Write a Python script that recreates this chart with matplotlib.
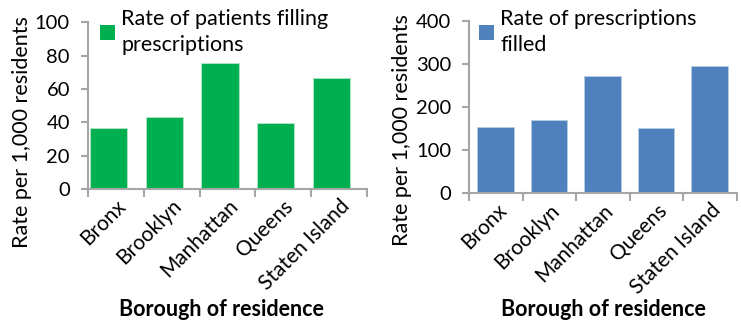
import matplotlib
matplotlib.use('Agg')
import matplotlib.pyplot as plt
from matplotlib.patches import Patch

plt.rcParams['font.family'] = ['Lato', 'DejaVu Sans']

boroughs = ['Bronx', 'Brooklyn', 'Manhattan', 'Queens', 'Staten Island']
patients_rate = [36.5, 43, 75.3, 39.4, 66.3]
patients_second = [0.7, 0, 0, 0, 0]   # second series in the left panel, almost empty
prescriptions_rate = [153, 171, 272, 151, 295]

green = '#00B050'
blue = '#4F81BD'
axis_grey = '#A6A6A6'
fs_label = 15.5
fs_ytick = 14.5
fs_xtick = 15

fig = plt.figure(figsize=(7.41, 3.22), dpi=100)
ax1 = fig.add_axes([0.1188, 0.413, 0.3765, 0.5177])
ax2 = fig.add_axes([0.6333, 0.3997, 0.3613, 0.536])


def style_axis(ax, ymax, ystep, ylab_pos, xlab_pos):
    ax.set_xlim(0, len(boroughs))
    ax.set_ylim(0, ymax)
    ax.set_yticks(range(0, ymax + 1, ystep))
    # tick marks between categories, labels at the centres
    ax.set_xticks(range(len(boroughs) + 1))
    ax.set_xticklabels([])
    ax.set_xticks([i + 0.5 for i in range(len(boroughs))], minor=True)
    ax.set_xticklabels(boroughs, minor=True, rotation=45, ha='right',
                       rotation_mode='anchor', fontsize=fs_xtick)
    ax.tick_params(axis='x', which='minor', length=0, pad=5)
    ax.tick_params(axis='x', which='major', length=6, width=1.5, color=axis_grey)
    ax.tick_params(axis='y', length=5, width=1.5, color=axis_grey,
                   labelsize=fs_ytick, pad=8)
    for s in ['top', 'right']:
        ax.spines[s].set_visible(False)
    for s in ['left', 'bottom']:
        ax.spines[s].set_color(axis_grey)
        ax.spines[s].set_linewidth(1.5)
    ax.set_ylabel('Rate per 1,000 residents', fontsize=fs_label)
    ax.yaxis.set_label_coords(*ylab_pos)
    ax.yaxis.label.set_va('center')
    ax.set_xlabel('Borough of residence', fontsize=fs_label, fontweight='bold')
    ax.xaxis.set_label_coords(*xlab_pos)
    ax.xaxis.label.set_va('center')


def add_legend(ax, color, label, anchor):
    leg = ax.legend(handles=[Patch(facecolor=color, edgecolor='none')], labels=[label],
                    loc='upper left', bbox_to_anchor=anchor, frameon=False,
                    fontsize=fs_label, handlelength=0.68, handleheight=0.68,
                    handletextpad=0.3, borderaxespad=0, borderpad=0)
    for t in leg.get_texts():
        t.set_linespacing(1.35)
    # square next to the first line of the label
    for row in leg._legend_handle_box.get_children():
        row.align = 'top'
    return leg


x = range(len(boroughs))

ax1.bar([i + 0.365 for i in x], patients_rate, width=0.67, color=green,
        edgecolor='#B8E6C8', linewidth=0.6, zorder=2)
ax1.bar([i + 0.66 for i in x], patients_second, width=0.68, color=blue,
        linewidth=0, zorder=1)
style_axis(ax1, 100, 20, (-0.237, 0.342), (0.477, -0.72))
add_legend(ax1, green, 'Rate of patients filling\nprescriptions', (0.043, 1.08))

ax2.bar([i + 0.49 for i in x], prescriptions_rate, width=0.68, color=blue,
        edgecolor='#B9CDE5', linewidth=0.6, zorder=2)
style_axis(ax2, 400, 100, (-0.251, 0.367), (0.5, -0.676))
add_legend(ax2, blue, 'Rate of prescriptions\nfilled', (0.036, 1.068))

fig.savefig('out.png', dpi=100)
